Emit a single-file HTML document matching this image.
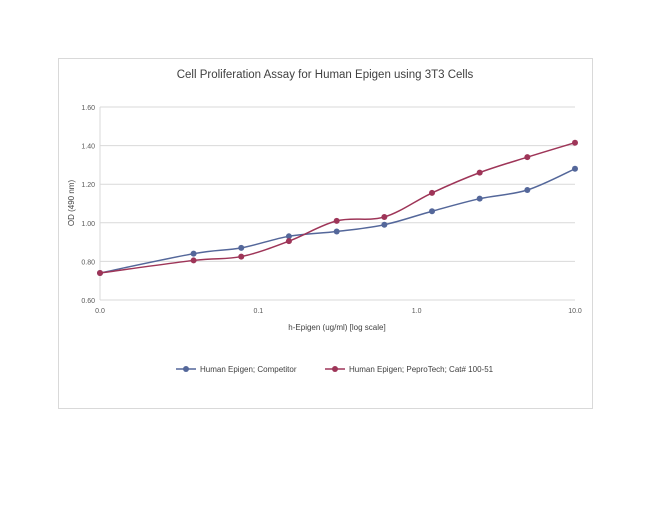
<!DOCTYPE html>
<html><head><meta charset="utf-8"><style>
body{margin:0;background:#fff;width:650px;height:502px;overflow:hidden;font-family:"Liberation Sans",sans-serif}
</style></head><body>
<svg width="650" height="502" id="svg">
<rect x="58.5" y="58.5" width="534" height="350" fill="#fff" stroke="#d9d9d9"/>
<text x="325" y="78" text-anchor="middle" font-size="11.5" fill="#404040">Cell Proliferation Assay for Human Epigen using 3T3 Cells</text>
<text transform="translate(74,203) rotate(-90)" text-anchor="middle" font-size="8" fill="#404040">OD (490 nm)</text>
<text x="337" y="330" text-anchor="middle" font-size="8" fill="#404040">h-Epigen (ug/ml) [log scale]</text>
<g id="grid"></g><g id="series"></g>
<g>
<line x1="176" y1="369" x2="196" y2="369" stroke="#54679a" stroke-width="1.5"/><circle cx="186" cy="369" r="3" fill="#54679a"/>
<text x="200" y="372" font-size="8" fill="#404040">Human Epigen; Competitor</text>
<line x1="325" y1="369" x2="345" y2="369" stroke="#9e3558" stroke-width="1.5"/><circle cx="335" cy="369" r="3" fill="#9e3558"/>
<text x="349" y="372" font-size="8" fill="#404040">Human Epigen; PeproTech; Cat# 100-51</text>
</g>
</svg>
<script>
const xValues=[0.01,0.039,0.078,0.156,0.3125,0.625,1.25,2.5,5,10];
const competitor=[0.74,0.84,0.87,0.93,0.955,0.99,1.06,1.125,1.17,1.28];
const peprotech=[0.74,0.805,0.825,0.905,1.01,1.03,1.155,1.26,1.34,1.415];
const yTicks=[0.6,0.8,1.0,1.2,1.4,1.6];
const xTicks=[0.01,0.1,1,10];
const xTickLabels=["0.0","0.1","1.0","10.0"];
const NS="http://www.w3.org/2000/svg";
const X0=100,X1=575,Y0=300,Y1=107;
const sx=v=>X0+(Math.log10(v)+2)/3*(X1-X0);
const sy=v=>Y0-(v-0.6)/1.0*(Y0-Y1);
function mk(t,a,p){const e=document.createElementNS(NS,t);for(const k in a)e.setAttribute(k,a[k]);p.appendChild(e);return e;}
const grid=document.getElementById('grid');
yTicks.forEach(v=>{
 const l=mk('line',{x1:X0,x2:X1,y1:sy(v),y2:sy(v),stroke:'#d9d9d9'},grid);
 
 
 const t=mk('text',{x:X0-5,y:sy(v)+3,'text-anchor':'end','font-size':7,fill:'#595959'},grid);
 t.textContent=v.toFixed(2);
 
 
});
const ax=mk('line',{x1:X0,x2:X0,y1:Y1,y2:Y0,stroke:'#d9d9d9'},grid);


xTicks.forEach((v,i)=>{
 const t=mk('text',{x:sx(v),y:313,'text-anchor':'middle','font-size':7,fill:'#595959'},grid);
 t.textContent=xTickLabels[i];
 
 
});
function smooth(pts){let d=`M${pts[0][0]},${pts[0][1]}`;
 for(let i=0;i<pts.length-1;i++){const p0=pts[Math.max(i-1,0)],p1=pts[i],p2=pts[i+1],p3=pts[Math.min(i+2,pts.length-1)];
 const t=1/6;d+=` C${p1[0]+(p2[0]-p0[0])*t},${p1[1]+(p2[1]-p0[1])*t} ${p2[0]-(p3[0]-p1[0])*t},${p2[1]-(p3[1]-p1[1])*t} ${p2[0]},${p2[1]}`;}
 return d;}
const sg=document.getElementById('series');
[[competitor,'#54679a','series-competitor'],[peprotech,'#9e3558','series-peprotech']].forEach(([vals,c,n])=>{
 const pts=vals.map((v,i)=>[sx(xValues[i]),sy(v)]);
 const g=mk('g',{},sg);
 
 
 mk('path',{d:smooth(pts),fill:'none',stroke:c,'stroke-width':1.5},g);
 pts.forEach(p=>{const m=mk('circle',{cx:p[0],cy:p[1],r:3,fill:c},g);
 
 });
});
</script>
</body></html>
